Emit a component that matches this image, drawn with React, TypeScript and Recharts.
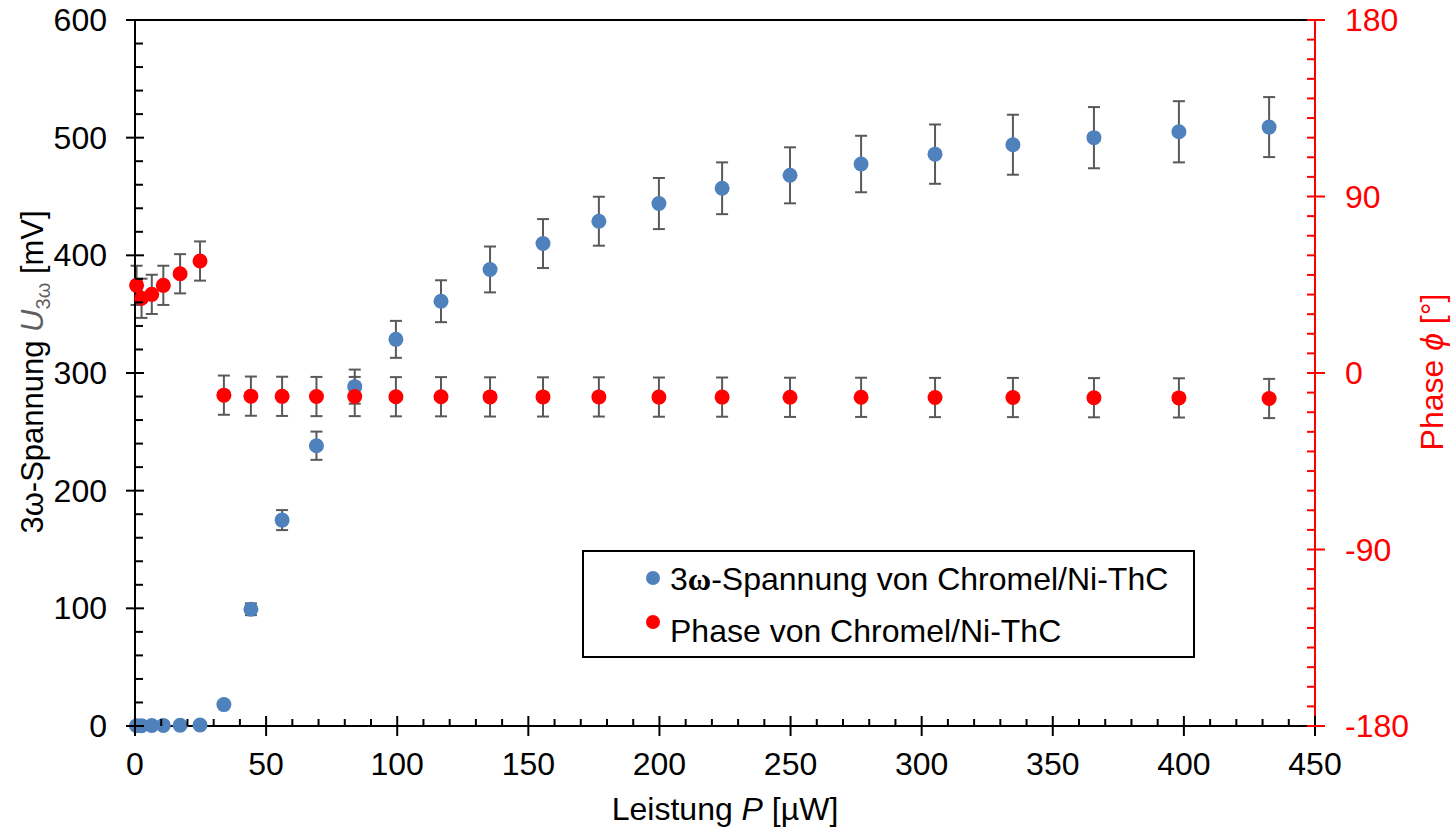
import React from 'react';
import {
  ScatterChart,
  Scatter,
  XAxis,
  YAxis,
  ErrorBar,
  ReferenceLine,
  Legend,
} from 'recharts';

// ---------- data ----------
const powerUW = [0.6, 2.5, 6.4, 10.8, 17.2, 24.8, 33.9, 44.2, 56.1, 69.2, 83.8, 99.5, 116.7, 135.4, 155.6, 176.9, 199.8, 223.9, 249.8, 276.9, 305.1, 334.8, 365.7, 398.1, 432.5];
const voltageMV = [0.2, 0.3, 0.4, 0.5, 0.6, 0.8, 18.2, 99.2, 175, 238.2, 288.4, 328.6, 361, 388, 410, 429, 444, 457, 468, 477.6, 486, 494, 500, 505, 509];
const voltageErr = [0, 0, 0, 0, 0, 0, 1, 5, 8.5, 12, 14.5, 15.7, 17.8, 19.5, 20.8, 20.8, 21.7, 22, 23.8, 24, 25.2, 25.5, 26, 26, 25.5];
const phaseDeg = [44.7, 38.1, 40.1, 44.7, 50.6, 57.1, -11.3, -11.8, -11.9, -12.0, -12.0, -12.1, -12.1, -12.2, -12.2, -12.2, -12.3, -12.3, -12.4, -12.4, -12.5, -12.5, -12.6, -12.7, -13.0];
const phaseErr = [10, 10, 10, 10, 10, 10, 10, 10, 10, 10, 10, 10, 10, 10, 10, 10, 10, 10, 10, 10, 10, 10, 10, 10, 10];

const xMajorTicks = [0, 50, 100, 150, 200, 250, 300, 350, 400, 450];
const leftMajorTicks = [0, 100, 200, 300, 400, 500, 600];
const rightMajorTicks = [-180, -90, 0, 90, 180];

const seriesNames = ['Spannung von Chromel/Ni-ThC', 'Phase von Chromel/Ni-ThC'];

// ---------- derived ----------
const blueData = powerUW.map((p, i) => ({ p, u: voltageMV[i], e: voltageErr[i] }));
const redData = powerUW.map((p, i) => ({ p, phi: phaseDeg[i], e: phaseErr[i] }));

const range = (a: number, b: number, s: number) => {
  const out: number[] = [];
  for (let v = a; v <= b + 1e-9; v += s) out.push(Math.round(v * 1000) / 1000);
  return out;
};
const xTicks = range(0, 450, 10);
const leftTicks = range(0, 600, 20);
const rightTicks = range(-180, 180, 10);

const FONT = "'Liberation Sans', Arial, sans-serif";
const BLUE = '#4F81BD';
const RED = '#FF0000';
const FS = 32;

// ---------- ticks ----------
const XTick = (props: any) => {
  const { x, y, payload } = props;
  const v = payload.value;
  const major = xMajorTicks.includes(v);
  return (
    <g>
      {major ? (
        <line x1={x} x2={x} y1={y - 10} y2={y + 10} stroke="#000" strokeWidth={2} />
      ) : (
        <line x1={x} x2={x} y1={y - 7} y2={y} stroke="#000" strokeWidth={2} />
      )}
      {major && (
        <text x={x} y={y + 49} textAnchor="middle" fontSize={FS} fontFamily={FONT} fill="#000">
          {v}
        </text>
      )}
    </g>
  );
};

const LeftTick = (props: any) => {
  const { x, y, payload } = props;
  const v = payload.value;
  const major = leftMajorTicks.includes(v);
  return (
    <g>
      {major ? (
        <line x1={x - 9} x2={x + 9} y1={y} y2={y} stroke="#000" strokeWidth={2} />
      ) : (
        <line x1={x} x2={x + 8} y1={y} y2={y} stroke="#000" strokeWidth={2} />
      )}
      {major && (
        <text x={x - 28} y={y + 11} textAnchor="end" fontSize={FS} fontFamily={FONT} fill="#000">
          {v}
        </text>
      )}
    </g>
  );
};

const RightTick = (props: any) => {
  const { x, y, payload } = props;
  const v = payload.value;
  const major = rightMajorTicks.includes(v);
  return (
    <g>
      {major ? (
        <line x1={x - 8} x2={x + 10} y1={y} y2={y} stroke={RED} strokeWidth={2} />
      ) : (
        <line x1={x - 8} x2={x} y1={y} y2={y} stroke={RED} strokeWidth={2} />
      )}
      {major && (
        <text x={x + 30} y={y + 11} textAnchor="start" fontSize={FS} fontFamily={FONT} fill={RED}>
          {v}
        </text>
      )}
    </g>
  );
};

// ---------- titles ----------
const XTitle = (props: any) => {
  const vb = props.viewBox || { x: 135, width: 1180, y: 726 };
  const cx = vb.x + vb.width / 2;
  return (
    <text x={cx} y={820} textAnchor="middle" fontSize={FS} fontFamily={FONT} fill="#000">
      Leistung <tspan fontStyle="italic">P</tspan> [µW]
    </text>
  );
};

const LeftTitle = () => {
  const cx = 32;
  const cy = 372;
  return (
    <text
      transform={`rotate(-90 ${cx} ${cy})`}
      x={cx}
      y={cy + 11}
      textAnchor="middle"
      fontSize={31}
      fontFamily={FONT}
      fill="#000"
    >
      3ω-Spannung <tspan fontStyle="italic" fill="#5f5f5f">U</tspan>
      <tspan fill="#5f5f5f" fontSize={20} dy={7}>3ω</tspan>
      <tspan dy={-7}> [mV]</tspan>
    </text>
  );
};

const RightTitle = () => {
  const cx = 1432;
  const cy = 372;
  return (
    <text
      transform={`rotate(-90 ${cx} ${cy})`}
      x={cx}
      y={cy + 11}
      textAnchor="middle"
      fontSize={FS}
      fontFamily={FONT}
      fill={RED}
    >
      Phase <tspan fontStyle="italic">ϕ</tspan> [°]
    </text>
  );
};

// ---------- legend ----------
const LegendBox = () => (
  <div
    style={{
      width: 613,
      height: 108,
      border: '2px solid #000',
      boxSizing: 'border-box',
      background: '#fff',
    }}
  >
    <svg width={609} height={104} style={{ display: 'block' }}>
      <circle cx={69} cy={26} r={7} fill={BLUE} />
      <text x={86} y={38} fontSize={FS} fontFamily={FONT} fill="#000">
        3<tspan fontFamily="'Liberation Serif', serif" fontWeight="bold">ω</tspan>-{seriesNames[0]}
      </text>
      <circle cx={69} cy={70} r={7} fill={RED} />
      <text x={86} y={90} fontSize={FS} fontFamily={FONT} fill="#000">
        {seriesNames[1]}
      </text>
    </svg>
  </div>
);

const Dot = (color: string) => (props: any) => {
  const { cx, cy } = props;
  if (cx == null || cy == null) return <g />;
  return <circle cx={cx} cy={cy} r={7.5} fill={color} />;
};

export default function App() {
  return (
    <div style={{ position: 'absolute', left: 0, top: 0 }}>
      <ScatterChart width={1455} height={829} margin={{ top: 20, right: 0, bottom: 0, left: 0 }}>
        <XAxis
          type="number"
          dataKey="p"
          domain={[0, 450]}
          ticks={xTicks}
          interval={0}
          tick={<XTick />}
          tickLine={false}
          tickSize={0}
          tickMargin={0}
          axisLine={{ stroke: '#000', strokeWidth: 2 }}
          height={103}
          label={<XTitle />}
        />
        <YAxis
          yAxisId="left"
          type="number"
          dataKey="u"
          domain={[0, 600]}
          ticks={leftTicks}
          interval={0}
          tick={<LeftTick />}
          tickLine={false}
          tickSize={0}
          tickMargin={0}
          axisLine={{ stroke: '#000', strokeWidth: 2 }}
          width={135}
          label={<LeftTitle />}
        />
        <YAxis
          yAxisId="right"
          orientation="right"
          type="number"
          dataKey="phi"
          domain={[-180, 180]}
          ticks={rightTicks}
          interval={0}
          tick={<RightTick />}
          tickLine={false}
          tickSize={0}
          tickMargin={0}
          axisLine={{ stroke: RED, strokeWidth: 2 }}
          width={140}
          label={<RightTitle />}
        />
        <ReferenceLine yAxisId="left" y={600} stroke="#000" strokeWidth={2} ifOverflow="visible" />
        <Scatter
          yAxisId="left"
          name={seriesNames[0]}
          data={blueData}
          fill={BLUE}
          shape={Dot(BLUE)}
          isAnimationActive={false}
        >
          <ErrorBar dataKey="e" direction="y" width={6} stroke="#595959" strokeWidth={2} />
        </Scatter>
        <Scatter
          yAxisId="right"
          name={seriesNames[1]}
          data={redData}
          fill={RED}
          shape={Dot(RED)}
          isAnimationActive={false}
        >
          <ErrorBar dataKey="e" direction="y" width={6} stroke="#595959" strokeWidth={2} />
        </Scatter>
        <Legend
          layout="horizontal"
          verticalAlign="middle"
          align="center"
          wrapperStyle={{ left: 582, top: 550, width: 613, height: 108 }}
          content={() => <LegendBox />}
        />
      </ScatterChart>
    </div>
  );
}
